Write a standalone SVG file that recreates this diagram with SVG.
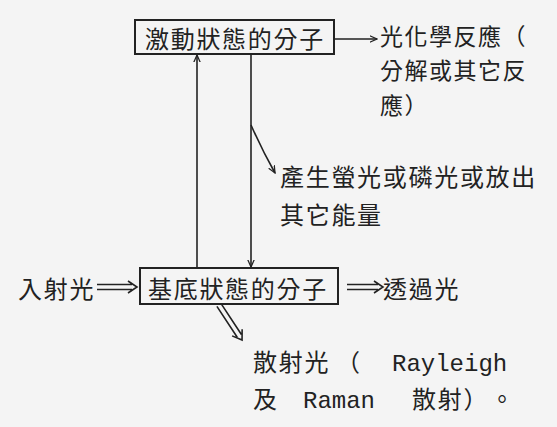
<svg xmlns="http://www.w3.org/2000/svg" width="557" height="427" viewBox="0 0 557 427">
<style>
.t{font-family:"Noto Sans CJK TC","Noto Sans CJK SC",sans-serif;font-size:24px;letter-spacing:1.7px;fill:#222}
.s{font-size:23px;letter-spacing:1.5px}
.m{font-family:"Liberation Mono",monospace;font-size:24px;fill:#222}
.box{fill:none;stroke:#222;stroke-width:2}
.ln{fill:none;stroke:#222;stroke-width:1.6}
.dbl{fill:none;stroke:#222;stroke-width:1.6;stroke-linejoin:miter}
</style>
<defs>
<marker id="ah" viewBox="0 0 10 10" refX="9" refY="5" markerWidth="8" markerHeight="8" orient="auto" markerUnits="userSpaceOnUse">
<path d="M0,1 L9,5 L0,9" fill="none" stroke="#222" stroke-width="1.6"/>
</marker>
</defs>
<rect width="557" height="427" fill="#f4f4f4"/>
<g id="excited">
<rect class="box" x="135" y="20" width="199" height="34"/>
<text class="t" x="145" y="48">激動狀態的分子</text>
</g>
<g id="ground">
<rect class="box" x="140" y="268" width="198" height="36"/>
<text class="t" x="148" y="298">基底狀態的分子</text>
</g>
<g id="photochem">
<text class="t s" x="380" y="45">光化學反應（</text>
<text class="t s" x="380" y="79">分解或其它反</text>
<text class="t s" x="380" y="114">應）</text>
</g>
<g id="fluor">
<text class="t" x="280" y="186">產生螢光或磷光或放出</text>
<text class="t" x="280" y="224">其它能量</text>
</g>
<g id="incident">
<text class="t" x="18" y="298">入射光</text>
</g>
<g id="transmit">
<text class="t" x="383" y="298">透過光</text>
</g>
<g id="scatter">
<text class="t" x="253" y="371">散射光</text>
<text class="t" x="336" y="371">（</text>
<text class="m" x="392" y="371">Rayleigh</text>
<text class="t" x="253" y="408">及</text>
<text class="m" x="303" y="408">Raman</text>
<text class="t" x="412" y="408">散射）</text>
<text class="t" x="490" y="408">。</text>
</g>
<g id="connectors">
<line class="ln" x1="334" y1="39" x2="377" y2="39" marker-end="url(#ah)"/>
<line class="ln" x1="197" y1="268" x2="197" y2="55" marker-end="url(#ah)"/>
<line class="ln" x1="251" y1="54" x2="251" y2="267" marker-end="url(#ah)"/>
<path class="ln" d="M251,125 Q262,150 275,173" marker-end="url(#ah)"/>
<path class="dbl" transform="translate(97,287)" d="M0,-2.5 H35 M0,2.5 H35 M31,-6 L40,0 L31,6"/>
<path class="dbl" transform="translate(347,287)" d="M0,-2.5 H31 M0,2.5 H31 M27,-6 L36,0 L27,6"/>
<path class="dbl" transform="translate(219,305) rotate(56.7)" d="M0,-2.5 H37 M0,2.5 H37 M33,-6 L42,0 L33,6"/>
</g>
</svg>
